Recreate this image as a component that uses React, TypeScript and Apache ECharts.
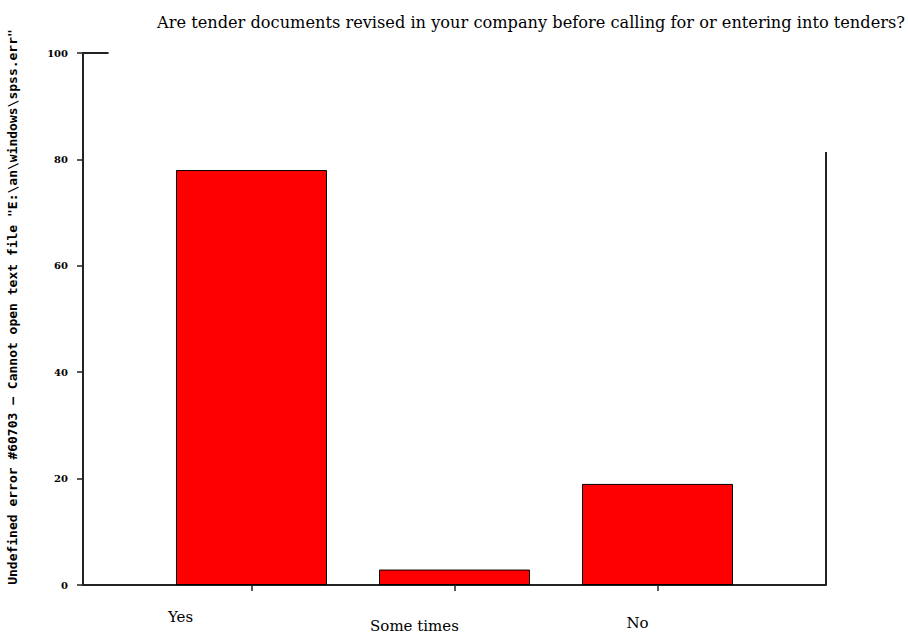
import React, { useEffect, useRef } from "react";
import * as echarts from "echarts";

const title = "Are tender documents revised in your company before calling for or entering into tenders?";
const yAxisName = "Undefined error #60703 \u2013 Cannot open text file \"E:\\an\\windows\\spss.err\"";
const categories = ["Yes", "Some times", "No"];
const values = [78.0, 2.9, 19.0];
const yTicks = [0, 20, 40, 60, 80, 100];

export default function App() {
  const ref = useRef<HTMLDivElement>(null);
  useEffect(() => {
    if (!ref.current) return;
    const chart = echarts.init(ref.current, null, { renderer: "svg" });
    const positions = categories.map((_, i) => i);
    const rich: Record<string, any> = {};
    const labelPad = [
      [0, 142, 0, 0],
      [9, 80, 0, 0],
      [6, 40, 0, 0],
    ];
    categories.forEach((_, i) => {
      rich["c" + i] = {
        fontFamily: "DejaVu Serif",
        fontSize: 15,
        color: "#000",
        padding: labelPad[i],
      };
    });
    chart.setOption({
      animation: false,
      backgroundColor: "#fff",
      title: {
        text: title,
        left: 152,
        top: 9,
        textStyle: {
          fontFamily: "DejaVu Serif",
          fontSize: 16.2,
          fontWeight: "normal",
          color: "#000",
        },
      },
      grid: {
        left: 83,
        right: 82,
        top: 53,
        bottom: 50,
        containLabel: false,
        outerBoundsMode: "none",
      },
      xAxis: {
        type: "value",
        min: -0.83,
        max: 2.83,
        splitLine: { show: false },
        axisLine: { show: true, onZero: false, lineStyle: { color: "#222", width: 2 } },
        axisTick: {
          show: true,
          customValues: positions,
          length: 6,
          lineStyle: { color: "#222", width: 1.5 },
        },
        axisLabel: {
          show: true,
          customValues: positions,
          margin: 24,
          formatter: (v: number) => {
            const i = Math.round(v);
            return `{c${i}|${categories[i]}}`;
          },
          rich,
        },
      },
      yAxis: {
        type: "value",
        min: 0,
        max: 100,
        interval: 20,
        splitLine: { show: false },
        axisLine: { show: true, onZero: false, lineStyle: { color: "#222", width: 2 } },
        axisTick: { show: true, length: 6, lineStyle: { color: "#222", width: 1.5 } },
        axisLabel: {
          margin: 15,
          fontSize: 10,
          fontWeight: "bold",
          fontFamily: "DejaVu Serif",
          color: "#000",
          customValues: yTicks,
        },
        name: yAxisName,
        nameLocation: "middle",
        nameRotate: 90,
        nameGap: 64,
        nameTextStyle: {
          fontFamily: "DejaVu Sans Mono",
          fontWeight: "bold",
          fontSize: 13,
          color: "#000",
          padding: [0, 0, 0, 24],
        },
      },
      series: [
        {
          type: "bar",
          barWidth: 151,
          data: values.map((v, i) => [i, v]),
          itemStyle: { color: "#ff0000", borderColor: "#000", borderWidth: 1 },
          markLine: {
            silent: true,
            symbol: "none",
            label: { show: false },
            lineStyle: { color: "#222", width: 2, type: "solid" },
            data: [
              [{ coord: [-0.83, 100] }, { coord: [-0.704, 100] }],
              [{ coord: [2.83, 0] }, { coord: [2.83, 81.4] }],
            ],
          },
        },
      ],
    });
    return () => chart.dispose();
  }, []);
  return (
    <div
      ref={ref}
      style={{ position: "fixed", left: 0, top: 0, width: 908, height: 635, background: "#fff" }}
    />
  );
}
